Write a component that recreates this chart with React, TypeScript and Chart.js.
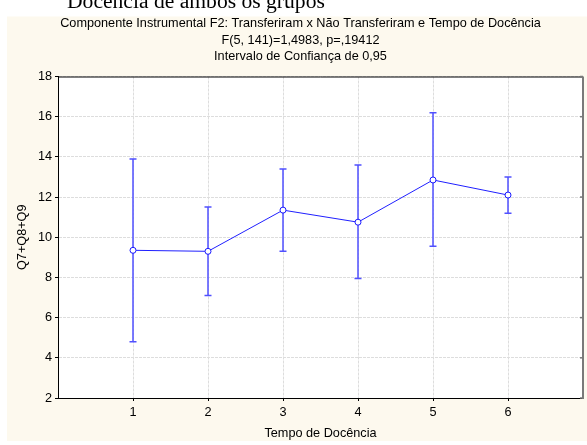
import React, { useEffect, useRef } from "react";
import { Chart, registerables } from "chart.js";

Chart.register(...registerables);

// Group means with 95% confidence limits per teaching-time band
const categories = [1, 2, 3, 4, 5, 6];
const means = [9.35, 9.3, 11.35, 10.75, 12.85, 12.1];
const lowerCI = [4.8, 7.1, 9.3, 7.95, 9.55, 11.2];
const upperCI = [13.9, 11.5, 13.4, 13.6, 16.2, 13.0];
const yTicks = [2, 4, 6, 8, 10, 12, 14, 16, 18];

const titleLines = [
  "Componente Instrumental F2: Transferiram x Não Transferiram e Tempo de Docência",
  "F(5, 141)=1,4983, p=,19412",
  "Intervalo de Confiança de 0,95",
];
const heading = "Docência de ambos os grupos";
const xTitle = "Tempo de Docência";
const yTitle = "Q7+Q8+Q9";

const CREAM = "#fdf9ee";
const LINE_BLUE = "#2020ff";
const BAR_BLUE = "#5050ff";
const GRID = "#dddddd";
const SANS = '"Liberation Sans", Arial, sans-serif';
const FS = 12.7;

const decorPlugin = {
  id: "decor",
  beforeDraw(chart: any) {
    const { ctx, chartArea: a } = chart;
    ctx.save();
    ctx.fillStyle = "#ffffff";
    ctx.fillRect(0, 0, chart.width, chart.height);
    ctx.fillStyle = CREAM;
    ctx.fillRect(7, 16.5, chart.width - 7, 441 - 16.5);
    ctx.fillStyle = "#ffffff";
    ctx.fillRect(a.left, a.top, a.right - a.left, a.bottom - a.top);
    ctx.restore();
  },
  beforeDatasetsDraw(chart: any) {
    const { ctx } = chart;
    const xs = chart.scales.x;
    const ys = chart.scales.y;
    ctx.save();
    ctx.strokeStyle = BAR_BLUE;
    ctx.lineWidth = 1.5;
    categories.forEach((c, i) => {
      const x = xs.getPixelForValue(c);
      const yLo = ys.getPixelForValue(lowerCI[i]);
      const yHi = ys.getPixelForValue(upperCI[i]);
      ctx.beginPath();
      ctx.moveTo(x, yLo);
      ctx.lineTo(x, yHi);
      ctx.moveTo(x - 3.5, yLo);
      ctx.lineTo(x + 3.5, yLo);
      ctx.moveTo(x - 3.5, yHi);
      ctx.lineTo(x + 3.5, yHi);
      ctx.stroke();
    });
    ctx.restore();
  },
  afterDraw(chart: any) {
    const { ctx, chartArea: a } = chart;
    const ys = chart.scales.y;
    ctx.save();
    // top frame line
    ctx.strokeStyle = "#000000";
    ctx.lineWidth = 1;
    ctx.beginPath();
    ctx.moveTo(a.left, a.top + 0.5);
    ctx.lineTo(a.right, a.top + 0.5);
    ctx.stroke();
    // right frame line with inward ticks
    ctx.strokeStyle = "#7a7a7a";
    ctx.lineWidth = 2;
    ctx.beginPath();
    ctx.moveTo(a.right, a.top);
    ctx.lineTo(a.right, a.bottom + 1);
    ctx.stroke();
    ctx.lineWidth = 1.5;
    yTicks.forEach((v) => {
      const y = ys.getPixelForValue(v);
      ctx.beginPath();
      ctx.moveTo(a.right - 3, y);
      ctx.lineTo(a.right, y);
      ctx.stroke();
    });
    // page heading above the panel
    ctx.fillStyle = "#000000";
    ctx.font = '21.6px "Liberation Serif", "Times New Roman", serif';
    ctx.textBaseline = "alphabetic";
    ctx.textAlign = "left";
    ctx.fillText(heading, 67, 8);
    ctx.restore();
  },
};

export default function App() {
  const canvasRef = useRef<HTMLCanvasElement>(null);

  useEffect(() => {
    document.body.style.margin = "0";
    const canvas = canvasRef.current;
    if (!canvas) return;
    Chart.defaults.font.family = SANS;
    const gridOpts = {
      color: GRID,
      lineWidth: 1,
      drawTicks: true,
      tickLength: 3,
      tickColor: "#000000",
      tickWidth: 1,
      tickBorderDash: [],
    };
    const chart = new Chart(canvas, {
      type: "line",
      data: {
        datasets: [
          {
            data: categories.map((c, i) => ({ x: c, y: means[i] })),
            borderColor: LINE_BLUE,
            borderWidth: 1,
            pointRadius: 3,
            pointHoverRadius: 3,
            pointBackgroundColor: "#ffffff",
            pointBorderColor: "#1a1aff",
            pointBorderWidth: 1,
            tension: 0,
            fill: false,
          },
        ],
      },
      options: {
        responsive: false,
        animation: false,
        events: [],
        layout: { padding: { top: 0, left: 18, right: 4, bottom: 3 } },
        plugins: {
          legend: { display: false },
          tooltip: { enabled: false },
          title: {
            display: true,
            text: titleLines,
            color: "#000000",
            font: { size: FS, weight: "normal", lineHeight: 16.5 / FS, family: SANS },
            padding: { top: 15.25, bottom: 11.75 },
          },
        },
        scales: {
          x: {
            type: "linear",
            min: 0,
            max: 7,
            afterBuildTicks: (s: any) => {
              s.ticks = categories.map((v) => ({ value: v }));
            },
            afterFit: (s: any) => {
              s.height = 44;
            },
            ticks: {
              color: "#000000",
              font: { size: FS, family: SANS },
              padding: 3.75,
              autoSkip: false,
              maxRotation: 0,
              callback: (v: any) => String(v),
            },
            grid: gridOpts,
            border: { display: true, color: "#000000", width: 1, dash: [3, 1] },
            title: {
              display: true,
              text: xTitle,
              color: "#000000",
              font: { size: FS, family: SANS },
              padding: { top: 0, bottom: 0.4 },
            },
          },
          y: {
            type: "linear",
            min: 2,
            max: 18,
            afterBuildTicks: (s: any) => {
              s.ticks = yTicks.map((v) => ({ value: v }));
            },
            afterFit: (s: any) => {
              s.width = 40;
            },
            ticks: {
              color: "#000000",
              font: { size: FS, family: SANS },
              padding: 3,
              autoSkip: false,
              callback: (v: any) => String(v),
            },
            grid: gridOpts,
            border: { display: true, color: "#000000", width: 1, dash: [3, 1] },
            title: {
              display: true,
              text: yTitle,
              color: "#000000",
              font: { size: FS, family: SANS },
              padding: { top: -3.1, bottom: 0 },
            },
          },
        },
      },
      plugins: [decorPlugin],
    } as any);
    return () => chart.destroy();
  }, []);

  return (
    <div style={{ position: "relative", width: 587, height: 445 }}>
      <canvas
        ref={canvasRef}
        width={587}
        height={445}
        style={{ display: "block", width: 587, height: 445 }}
      />
    </div>
  );
}
